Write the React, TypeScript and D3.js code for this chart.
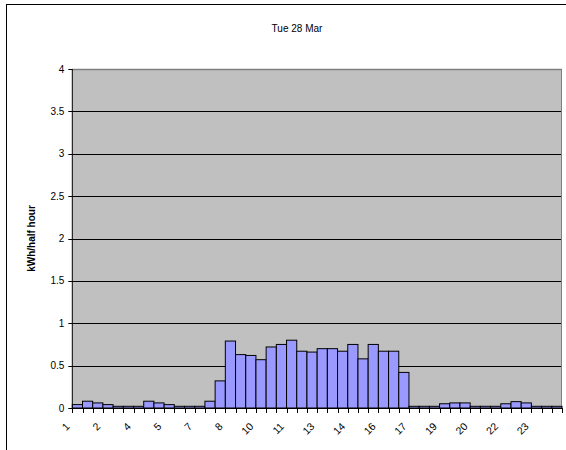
import React from "react";
import * as d3 from "d3";

const title = "Tue 28 Mar";
const yLabel = "kWh/half hour";
const values: number[] = [
  0.04, 0.08, 0.06, 0.04, 0.02, 0.02, 0.02, 0.08, 0.06, 0.04, 0.02, 0.02,
  0.02, 0.08, 0.32, 0.79, 0.63, 0.62, 0.57, 0.72, 0.75, 0.8, 0.67, 0.66,
  0.7, 0.7, 0.67, 0.75, 0.58, 0.75, 0.67, 0.67, 0.42, 0.02, 0.02, 0.02,
  0.05, 0.06, 0.06, 0.02, 0.02, 0.02, 0.05, 0.075, 0.06, 0.02, 0.02, 0.02,
];
const categories: string[] = values.map((_, i) => String(Math.floor(i / 2) + 1));
const yTicks: number[] = [0, 0.5, 1, 1.5, 2, 2.5, 3, 3.5, 4];
const labelEvery = 3;

export default function App() {
  const W = 566, H = 450;
  const left = 72.3, right = 562, top = 69, bottom = 408;
  const x = d3.scaleBand<number>().domain(d3.range(values.length)).range([left, right]).padding(0);
  const y = d3.scaleLinear().domain([0, 4]).range([bottom, top]);
  const font = "'Liberation Sans', Arial, sans-serif";
  return (
    <div style={{ position: "fixed", left: 0, top: 0 }}>
      <svg width={W} height={H} style={{ display: "block", background: "#fff" }} fontFamily={font}>
        <rect x={6.5} y={4.5} width={600} height={500} fill="#fff" stroke="#000" strokeWidth={1} />
        <text x={297} y={32} fontSize={10} textAnchor="middle" fill="#000">{title}</text>
        <rect x={left} y={top} width={right - left} height={bottom - top} fill="#c0c0c0" />
        {yTicks.filter((t) => t > 0 && t < 4).map((t) => (
          <line key={"g" + t} x1={left} x2={right} y1={Math.round(y(t)) + 0.5} y2={Math.round(y(t)) + 0.5} stroke="#000" strokeWidth={1} />
        ))}
        <line x1={left} x2={right} y1={top + 0.5} y2={top + 0.5} stroke="#808080" strokeWidth={1.5} />
        <line x1={right - 0.5} x2={right - 0.5} y1={top} y2={bottom} stroke="#808080" strokeWidth={1} />
        {values.map((v, i) => (
          <rect key={"b" + i} x={x(i)!} y={y(v)} width={x.bandwidth()} height={bottom - y(v)} fill="#9999ff" stroke="#000" strokeWidth={1} />
        ))}
        <line x1={left} x2={left} y1={top} y2={bottom} stroke="#000" strokeWidth={1} />
        <line x1={left} x2={right} y1={bottom + 0.5} y2={bottom + 0.5} stroke="#000" strokeWidth={1} />
        {yTicks.map((t) => (
          <g key={"yt" + t}>
            <line x1={left - 4} x2={left} y1={Math.round(y(t)) + 0.5} y2={Math.round(y(t)) + 0.5} stroke="#000" />
            <text x={left - 8} y={y(t) + 3.5} fontSize={10} textAnchor="end" fill="#000">{t}</text>
          </g>
        ))}
        {d3.range(values.length + 1).map((i) => {
          const xx = Math.round(left + i * x.bandwidth()) + 0.5;
          return <line key={"xt" + i} x1={xx} x2={xx} y1={bottom} y2={bottom + 5} stroke="#000" />;
        })}
        {categories.map((c, i) =>
          i % labelEvery === 0 ? (
            <text key={"xl" + i} transform={`translate(${x(i)! + x.bandwidth() / 2 - 7},${bottom + 19}) rotate(-45)`} fontSize={10.5} textAnchor="end" fill="#000">{c}</text>
          ) : null
        )}
        <text transform={`translate(35,${(top + bottom) / 2}) rotate(-90)`} fontSize={10} fontWeight="bold" textAnchor="middle" fill="#000">{yLabel}</text>
      </svg>
    </div>
  );
}
